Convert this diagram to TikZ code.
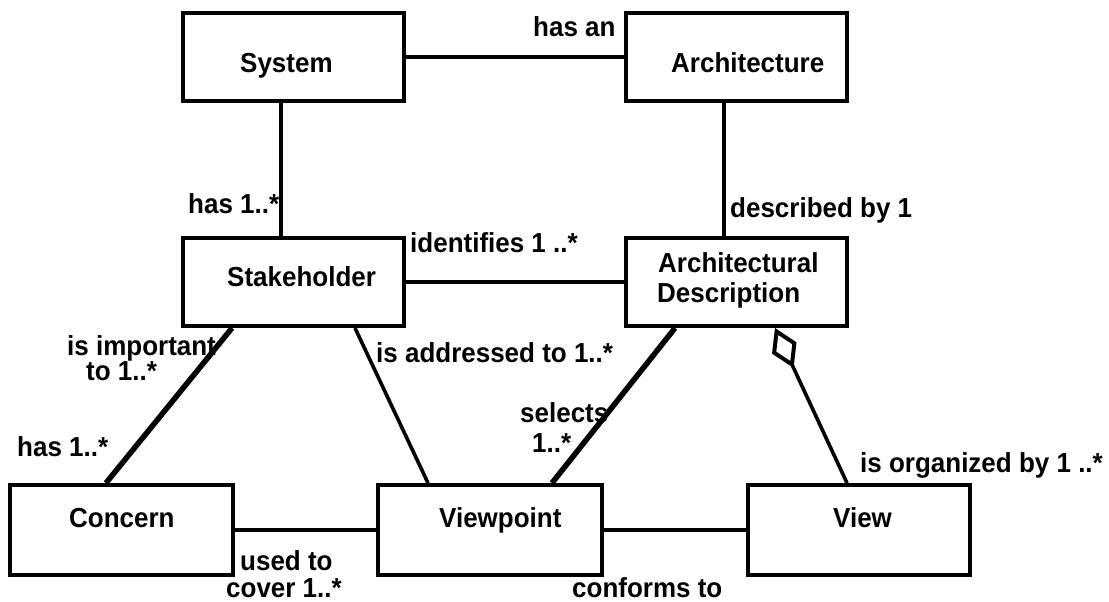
\documentclass[tikz,border=0pt]{standalone}
\usepackage{fontspec}
\setmainfont[FakeStretch=0.945]{Liberation Sans}
\usetikzlibrary{arrows.meta}
\begin{document}
\begin{tikzpicture}[x=1pt,y=-1pt,
  box/.style={draw,line width=4pt,rectangle,inner sep=0pt,minimum width=221pt,minimum height=88pt},
  txt/.style={anchor=base west,inner sep=0pt,font=\bfseries\fontsize{27.5}{30}\selectfont},
  link/.style={line width=3.6pt},
  thicklink/.style={line width=5.5pt},
  agg/.style={line width=3.6pt,{Diamond[open,length=44pt,width=27pt,line width=4pt]}-}
]
\useasboundingbox (0,0) rectangle (1109,602);
% boxes
\node[box] (sys)   at (293.5,57) {};
\node[box] (arch)  at (736.5,57) {};
\node[box] (stake) at (293.5,282) {};
\node[box] (ad)    at (736.5,282) {};
\node[box,minimum width=223pt,minimum height=90pt] (con)  at (121.5,530) {};
\node[box,minimum width=224pt,minimum height=90pt] (vp)   at (490,530) {};
\node[box,minimum width=222pt,minimum height=90pt] (view) at (859,530) {};
% box texts
\node[txt] (sysT)   at (240,73)  {System};
\node[txt] (archT)  at (671,73)  {Architecture};
\node[txt] (stakeT) at (227,286) {Stakeholder};
\node[txt] (adT1)   at (658,272) {Architectural};
\node[txt] (adT2)   at (657,302) {Description};
\node[txt] (conT)   at (69,527)  {Concern};
\node[txt] (vpT)    at (439,527) {Viewpoint};
\node[txt] (viewT)  at (833,527) {View};
% connectors
\draw[link] (sys.east) -- (arch.west);
\draw[link] ([xshift=-12.5pt]sys.south) -- ([xshift=-12.5pt]stake.north);
\draw[link] ([xshift=-12.5pt]arch.south) -- ([xshift=-12.5pt]ad.north);
\draw[link] (stake.east) -- (ad.west);
\draw[thicklink] ([xshift=-61.5pt]stake.south) -- ([xshift=-15.5pt]con.north);
\draw[link] ([xshift=61.5pt]stake.south) -- ([xshift=-62pt]vp.north);
\draw[thicklink] ([xshift=-61.5pt]ad.south) -- ([xshift=62pt]vp.north);
\draw[agg] ([xshift=38.5pt]ad.south) -- ([xshift=-12pt]view.north);
\draw[link] (con.east) -- (vp.west);
\draw[link] (vp.east) -- (view.west);
% labels
\node[txt] (l1)  at (533,37)  {has an};
\node[txt] (l2)  at (188,213) {has 1..*};
\node[txt] (l3)  at (410,252) {identifies 1 ..*};
\node[txt] (l4)  at (730,217) {described by 1};
\node[txt] (l5)  at (860,472) {is organized by 1 ..*};
\node[txt] (l6a) at (67,355)  {is important};
\node[txt] (l6b) at (86,380)  {to 1..*};
\node[txt] (l7)  at (376,362) {is addressed to 1..*};
\node[txt] (l8a) at (520,422) {selects};
\node[txt] (l8b) at (532,452) {1..*};
\node[txt] (l9)  at (17,456)  {has 1..*};
\node[txt] (l10a) at (240,570) {used to};
\node[txt] (l10b) at (226,597) {cover 1..*};
\node[txt] (l11) at (572,597) {conforms to};
\end{tikzpicture}
\end{document}
